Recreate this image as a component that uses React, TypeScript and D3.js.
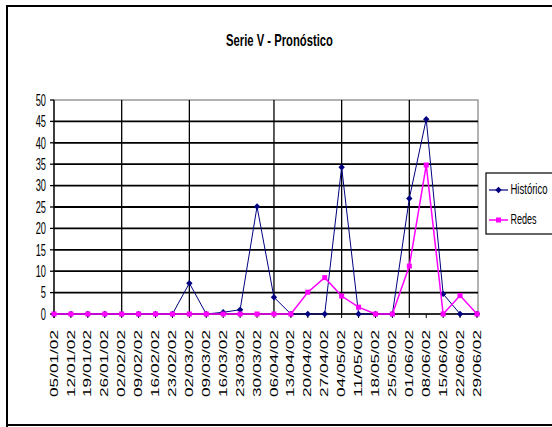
import React from "react";
import * as d3 from "d3";

const dates = [
  "05/01/02", "12/01/02", "19/01/02", "26/01/02", "02/02/02", "09/02/02", "16/02/02",
  "23/02/02", "02/03/02", "09/03/02", "16/03/02", "23/03/02", "30/03/02", "06/04/02",
  "13/04/02", "20/04/02", "27/04/02", "04/05/02", "11/05/02", "18/05/02", "25/05/02",
  "01/06/02", "08/06/02", "15/06/02", "22/06/02", "29/06/02",
];
const historico = [0, 0, 0, 0, 0, 0, 0, 0, 7.2, 0, 0.4, 1, 25.1, 3.9, 0, 0, 0, 34.3, 0, 0, 0, 27, 45.5, 4.7, 0, 0];
const redes = [0, 0, 0, 0, 0, 0, 0, 0, 0, 0, 0, 0, 0, 0, 0, 5.1, 8.5, 4.2, 1.6, 0, 0, 11.2, 34.8, 0, 4.3, 0];
const yTicks = [0, 5, 10, 15, 20, 25, 30, 35, 40, 45, 50];
// first week of each month gets a vertical gridline
const monthStarts = ["02/02/02", "02/03/02", "06/04/02", "04/05/02", "01/06/02"];

const NAVY = "#000080";
const MAGENTA = "#FF00FF";
const FONT = "'Liberation Sans', Arial, sans-serif";

export default function App() {
  const W = 552;
  const H = 427;
  const left = 54;
  const right = 477;
  const top = 100;
  const bottom = 314;

  const x = d3.scalePoint<string>().domain(dates).range([left, right]);
  const y = d3.scaleLinear().domain([0, 50]).range([bottom, top]);

  const line = d3
    .line<number>()
    .x((_, i) => x(dates[i]) as number)
    .y((d) => y(d));

  const diamond = (cx: number, cy: number, r = 3.2) =>
    `M${cx},${cy - r}L${cx + r},${cy}L${cx},${cy + r}L${cx - r},${cy}Z`;

  return (
    <svg
      width={W}
      height={H}
      style={{ position: "absolute", left: 0, top: 0, background: "#fff" }}
    >
      {/* outer chart frame */}
      <path d={`M7,${H + 2}V6H${W + 2}`} fill="none" stroke="#000" strokeWidth={2} />
      <line x1={7} y1={425} x2={W + 2} y2={425} stroke="#000" strokeWidth={2} />

      <text
        x={279.5}
        y={45.5}
        textAnchor="middle"
        fontFamily={FONT}
        fontWeight="bold"
        fontSize={17}
        textLength={107}
        lengthAdjust="spacingAndGlyphs"
      >
        Serie V - Pronóstico
      </text>

      {/* plot area border */}
      <rect x={left} y={top} width={right - left + 1} height={bottom - top} fill="none" stroke="#999" strokeWidth={1.5} />

      {/* horizontal gridlines */}
      {yTicks.slice(1, -1).map((t) => (
        <line key={t} x1={left} x2={right + 1} y1={y(t)} y2={y(t)} stroke="#000" strokeWidth={1.8} />
      ))}
      {/* vertical gridlines */}
      {monthStarts.map((d) => (
        <line key={d} x1={x(d)} x2={x(d)} y1={top} y2={bottom} stroke="#000" strokeWidth={1.3} />
      ))}

      {/* y axis */}
      <line x1={left} x2={left} y1={top} y2={bottom + 4} stroke="#000" strokeWidth={1.3} />
      {yTicks.map((t) => (
        <g key={t}>
          <line x1={left - 4} x2={left} y1={y(t)} y2={y(t)} stroke="#000" strokeWidth={1.3} />
          <text
            transform={`translate(${left - 8},${y(t)}) scale(0.58,1)`}
            dy="0.36em"
            textAnchor="end"
            fontFamily={FONT}
            fontSize={16}
          >
            {t}
          </text>
        </g>
      ))}

      {/* x axis */}
      <line x1={left} x2={right + 1} y1={bottom} y2={bottom} stroke="#000" strokeWidth={1.3} />
      {dates.map((d) => (
        <g key={d}>
          <line x1={x(d)} x2={x(d)} y1={bottom} y2={bottom + 4} stroke="#000" strokeWidth={1} />
          <text
            transform={`translate(${(x(d) as number) + 3.6},${bottom + 16}) rotate(-90)`}
            textAnchor="end"
            fontFamily={FONT}
            fontSize={10}
            textLength={67}
            lengthAdjust="spacingAndGlyphs"
          >
            {d}
          </text>
        </g>
      ))}

      {/* Histórico series */}
      <path d={line(historico) || ""} fill="none" stroke={NAVY} strokeWidth={1} />
      {historico.map((v, i) => (
        <path key={i} d={diamond(x(dates[i]) as number, y(v))} fill={NAVY} />
      ))}

      {/* Redes series */}
      <path d={line(redes) || ""} fill="none" stroke={MAGENTA} strokeWidth={1.5} />
      {redes.map((v, i) => (
        <rect
          key={i}
          x={(x(dates[i]) as number) - 2.5}
          y={y(v) - 2.5}
          width={5}
          height={5}
          fill={MAGENTA}
        />
      ))}

      {/* legend */}
      <rect x={486} y={173} width={70} height={61} fill="#fff" stroke="#000" strokeWidth={1.2} />
      <line x1={489} x2={508} y1={190} y2={190} stroke={NAVY} strokeWidth={1.2} />
      <path d={diamond(498.5, 190)} fill={NAVY} />
      <text
        x={510.5}
        y={194}
        fontFamily={FONT}
        fontSize={14}
        textLength={37}
        lengthAdjust="spacingAndGlyphs"
      >
        Histórico
      </text>
      <line x1={489} x2={508} y1={220} y2={220} stroke={MAGENTA} strokeWidth={1.5} />
      <rect x={496} y={217.5} width={5} height={5} fill={MAGENTA} />
      <text
        x={510.5}
        y={224}
        fontFamily={FONT}
        fontSize={14}
        textLength={26}
        lengthAdjust="spacingAndGlyphs"
      >
        Redes
      </text>
    </svg>
  );
}
